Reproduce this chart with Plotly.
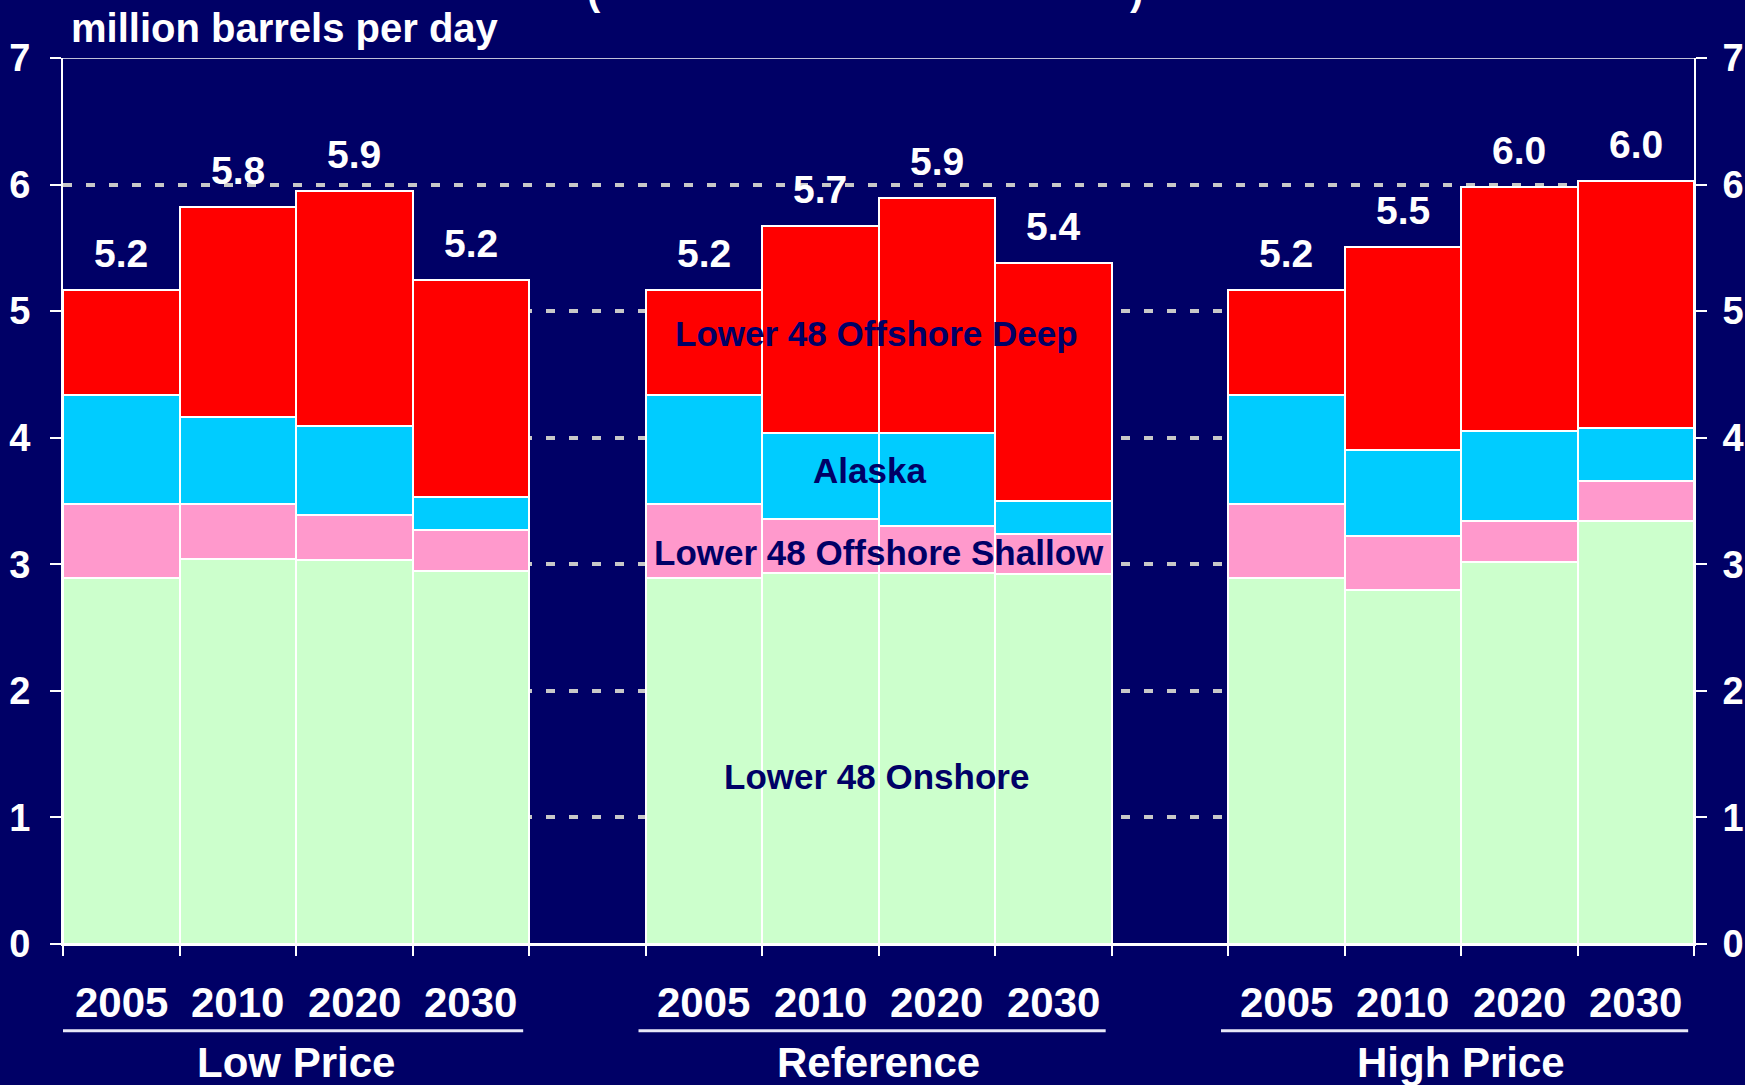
import numpy as np
import plotly.graph_objects as go

scenarios = ["Low Price", "Reference", "High Price"]
years = ["2005", "2010", "2020", "2030"]

# million barrels per day, Low / Reference / High, 2005-2030 each
onshore = [2.89, 3.04, 3.03, 2.95, 2.89, 2.93, 2.93, 2.92, 2.89, 2.80, 3.02, 3.34]
shallow = [0.59, 0.44, 0.36, 0.32, 0.59, 0.43, 0.37, 0.32, 0.59, 0.42, 0.32, 0.32]
alaska = [0.86, 0.68, 0.70, 0.26, 0.86, 0.68, 0.74, 0.26, 0.86, 0.68, 0.71, 0.42]
deep = [0.83, 1.66, 1.86, 1.72, 0.83, 1.63, 1.85, 1.88, 0.83, 1.61, 1.93, 1.95]
total_labels = ["5.2", "5.8", "5.9", "5.2", "5.2", "5.7", "5.9", "5.4", "5.2", "5.5", "6.0", "6.0"]

NAVY = "#000066"
FONT = "Liberation Sans, Arial, sans-serif"

# 4 bars per scenario with one empty slot between scenarios
xpos = [g * 5 + i for g in range(len(scenarios)) for i in range(len(years))]
totals = np.array(onshore) + np.array(shallow) + np.array(alaska) + np.array(deep)

series = [
    ("Lower 48 Onshore", onshore, "#CCFFCC"),
    ("Lower 48 Offshore Shallow", shallow, "#FF99CC"),
    ("Alaska", alaska, "#00CCFF"),
    ("Lower 48 Offshore Deep", deep, "#FF0000"),
]

fig = go.Figure()
for name, vals, col in series:
    fig.add_trace(go.Bar(x=xpos, y=vals, name=name, width=1,
                         marker=dict(color=col, line=dict(color="white", width=2)),
                         showlegend=False))
# dummy trace so the right-hand axis gets drawn
fig.add_trace(go.Scatter(x=[None], y=[None], yaxis="y2", showlegend=False))

ann = []
for x, t, lab in zip(xpos, totals, total_labels):
    ann.append(dict(x=x, y=t, xref="x", yref="y", text=lab, showarrow=False,
                    yanchor="bottom", yshift=13,
                    font=dict(size=39, color="white", family=FONT, weight="bold")))
for i, x in enumerate(xpos):
    ann.append(dict(x=x, y=0, xref="x", yref="paper", text=years[i % 4], showarrow=False,
                    yanchor="middle", yshift=-58,
                    font=dict(size=42, color="white", family=FONT, weight="bold")))
shapes = []
for g, sc in enumerate(scenarios):
    ann.append(dict(x=g * 5 + 1.5, y=0, xref="x", yref="paper", text=sc, showarrow=False,
                    yanchor="middle", yshift=-118,
                    font=dict(size=42, color="white", family=FONT, weight="bold")))
    shapes.append(dict(type="line", xref="x", yref="paper", x0=g * 5 - 0.56, x1=g * 5 + 3.45,
                       y0=-0.098, y1=-0.098, line=dict(color="#e8e8f8", width=3)))

# series names written inside the Reference bars
inside = [("Lower 48 Offshore Deep", 6.48, 4.82), ("Alaska", 6.42, 3.74),
          ("Lower 48 Offshore Shallow", 6.50, 3.09), ("Lower 48 Onshore", 6.48, 1.32)]
for txt, x, y in inside:
    ann.append(dict(x=x, y=y, xref="x", yref="y", text=txt, showarrow=False,
                    font=dict(size=35, color=NAVY, family=FONT, weight="bold")))

ann.append(dict(x=0, y=1, xref="paper", yref="paper", text="million barrels per day",
                showarrow=False, xanchor="left", xshift=6, yanchor="middle", yshift=30,
                font=dict(size=40, color="white", family=FONT, weight="bold")))
# cut-off title brackets at the very top
for px, ch in [(0.320, "("), (0.6584, ")")]:
    ann.append(dict(x=px, y=1, xref="paper", yref="paper", text=ch, showarrow=False,
                    yanchor="bottom", yshift=43,
                    font=dict(size=40, color="white", family=FONT, weight="bold")))

shapes.append(dict(type="line", xref="paper", yref="y", x0=0, x1=1, y0=7, y1=7,
                   layer="below", line=dict(color="white", width=1.5)))

yax = dict(range=[0, 7], tickvals=list(range(8)), ticks="outside", ticklen=11, tickwidth=2,
           tickcolor="white", showline=True, linecolor="white", linewidth=2,
           automargin=False,
           tickfont=dict(size=38, color="white", family=FONT, weight="bold"))

fig.update_layout(
    width=1745, height=1085,
    margin=dict(l=63, r=51, t=58, b=141),
    paper_bgcolor=NAVY, plot_bgcolor=NAVY,
    barmode="stack", bargap=0,
    xaxis=dict(range=[-0.5, 13.5], tickvals=[i - 0.5 for i in range(15)],
               ticktext=[""] * 15, ticks="outside", ticklen=10, tickwidth=2,
               tickcolor="white", showline=True, linecolor="white", linewidth=2,
               showgrid=False, zeroline=False, automargin=False),
    yaxis=dict(**yax, ticklabelstandoff=12, showgrid=True, gridcolor="#c8c8c8",
               gridwidth=3.5, griddash="9px,14px",
               zeroline=True, zerolinecolor="white", zerolinewidth=2),
    yaxis2=dict(**yax, ticklabelstandoff=8, overlaying="y", side="right",
                showgrid=False, zeroline=False),
    annotations=ann, shapes=shapes,
)

fig.write_html("out.html", config={"displayModeBar": False},
               post_script="document.body.style.margin='0';")
